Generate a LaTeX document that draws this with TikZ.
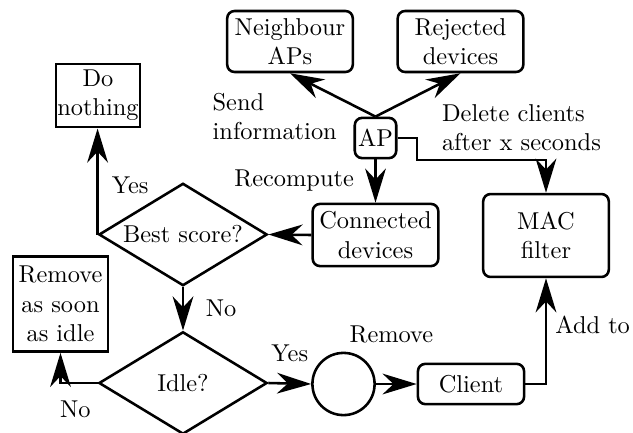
\documentclass[tikz,border=0pt]{standalone}
\usepackage{amsmath}
\usepackage{tikz}
\usetikzlibrary{arrows.meta,shapes.geometric}

\begin{document}
\begin{tikzpicture}[x=0.41pt,y=-0.41pt,line width=1.05pt,
          box/.style={draw,rounded corners=3pt,align=center,inner sep=1pt},
          sqbox/.style={draw,align=center,inner sep=0.5pt},
          decision/.style={draw,diamond,aspect=1.6,inner sep=0pt,minimum width=69pt,minimum height=42pt},
          arr/.style={-{Stealth[length=14pt,width=8.5pt,inset=4.5pt]}}]
          %\draw[very thin,lightgray] (0,0) grid[step=50] (633,432);
          \useasboundingbox (0,0) rectangle (633,432);
          \node[box,minimum width=51.5pt,minimum height=25pt] (nap) at (290,41.5) {Neighbour\\APs};
          \node[box,minimum width=51.5pt,minimum height=25pt] (rej) at (460.5,41.5) {Rejected\\devices};
          \node[box,minimum width=17pt,minimum height=16.5pt] (ap) at (375.5,138) {AP};
          \node[box,minimum width=51.5pt,minimum height=25.5pt] (con) at (375.5,235) {Connected\\devices};
          \node[box,minimum width=51.5pt,minimum height=34pt] (mac) at (546,235.5) {MAC\\filter};
          \node[box,minimum width=43.5pt,minimum height=16.5pt] (cli) at (471,384) {Client};
          \node[draw,circle,minimum size=25.5pt,inner sep=0pt] (circ) at (343.5,384) {};
          \node[sqbox,minimum width=34.5pt,minimum height=26pt] (do) at (98,95.5) {Do\\nothing};
          \node[sqbox,minimum width=39pt,minimum height=39pt] (rem) at (60.5,304) {Remove\\as soon\\as idle};
          \node[decision] (best) at (183,234.5) {Best score?};
          \node[decision] (idle) at (183,383) {Idle?};
          \coordinate (bend) at (417,160);
          \draw[arr] (ap.north) -- node[below left,align=left,xshift=5.5pt,yshift=4.5pt]{Send\\information} (nap.south);
          \draw[arr] (ap.north) -- node[below right,align=left,xshift=6pt]{Delete clients\\after x seconds} (rej.south);
          \draw[arr] (ap.south) -- node[left=5pt]{Recompute} (con.north);
          \draw[arr] (ap.east) -| (bend) -| (mac.north);
          \draw[arr] (con.west) -- (best.east);
          \draw[arr] (best.west) -- node[right=2pt,pos=0.46]{Yes} (best.west |- do.south);
          \draw[arr] (best.south) -- node[right=5.5pt]{No} (idle.north);
          \draw[arr] (idle.west) -| node[below=3.5pt,pos=0.3]{No} (rem.south);
          \draw[arr] (idle.east) -- node[above=5pt]{Yes} (circ.west);
          \draw[arr] (circ.east) -- node[above=13pt,xshift=-2pt]{Remove} (cli.west);
          \draw[arr] (cli.east) -| node[right,pos=0.78]{Add to} (mac.south);
        \end{tikzpicture}
\end{document}
